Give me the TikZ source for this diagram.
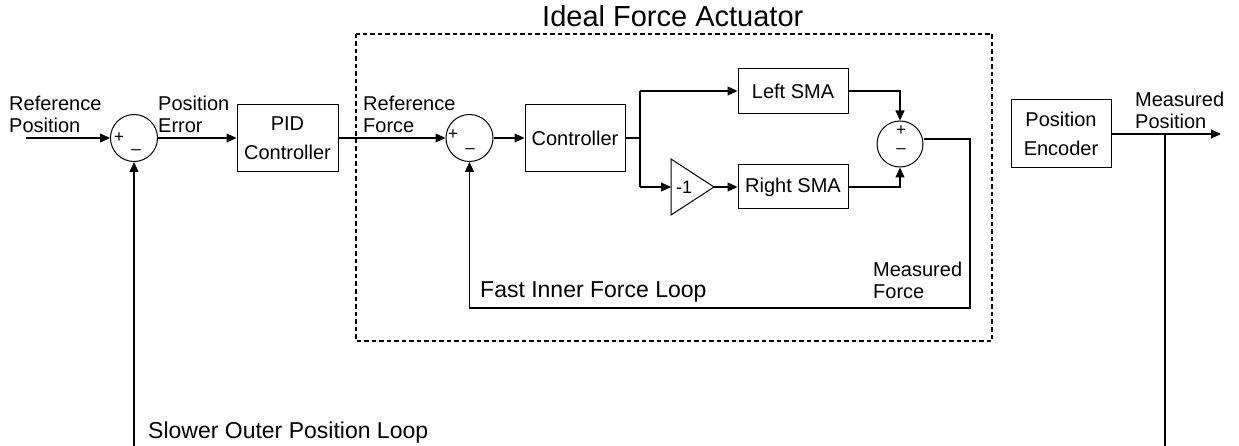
\documentclass[tikz,border=0pt]{standalone}
\usepackage{fontspec}
\setmainfont{Liberation Sans}
\usetikzlibrary{arrows.meta}
\tikzset{
  x=1pt, y=-1pt,
  wire/.style={line width=1.1pt, draw=black},
  sig/.style={wire, -{Triangle[length=10pt,width=9pt]}},
  blk/.style={draw=black, line width=1pt, minimum width=#1, inner sep=0pt, align=center,
              font=\fontsize{20}{29}\selectfont},
  blk/.default=100pt,
  sumnode/.style={draw=black, line width=1pt, circle, minimum size=47pt, inner sep=0pt},
  sgn/.style={font=\fontsize{17}{17}\selectfont, inner sep=0pt},
  lbl/.style={font=\fontsize{20}{22}\selectfont, align=left, inner sep=0pt, anchor=west},
  big/.style={font=\fontsize{23}{23}\selectfont, inner sep=0pt, anchor=base west},
  frame/.style={line width=1.6pt, dash pattern=on 4.5pt off 3pt}
}
\begin{document}
\begin{tikzpicture}
\useasboundingbox (0,0) rectangle (1239,446);

% ideal force actuator frame
\draw[frame] (356,34) rectangle (992,341);
\node[font=\fontsize{29}{29}\selectfont, inner sep=0pt, anchor=base west] (ttl) at (542,27) {Ideal Force Actuator};

% blocks
\node[sumnode] (s1) at (134,138) {};
\node[sgn] (s1p) at (119,138) {+};
\node[sgn] (s1m) at (136,152) {–};
\node[blk=101pt, minimum height=67pt] (pid) at (287.5,138) {PID\\Controller};
\node[sumnode] (s2) at (469.5,138) {};
\node[sgn] (s2p) at (453,135) {+};
\node[sgn] (s2m) at (470,151) {–};
\node[blk=100pt, minimum height=67pt] (ctl) at (575,138) {Controller};
\node[blk=110pt, minimum height=45pt] (lsma) at (793,91) {Left SMA};
\node[blk=110pt, minimum height=44pt] (rsma) at (793,187) {Right SMA};
\node[sumnode, minimum size=46pt] (s3) at (900,144) {};
\node[sgn] (s3p) at (901,131) {+};
\node[sgn] (s3m) at (901,151) {–};
\node[blk=100pt, minimum height=68pt] (enc) at (1061,134) {Position\\Encoder};

% gain of -1
\coordinate (gin) at (671,187);
\coordinate (gout) at (714,187);
\draw[line width=1pt] (671,159) -- (gout) -- (671,215) -- cycle;
\node[font=\fontsize{18}{18}\selectfont, inner sep=0pt] (gtxt) at (684,187) {-1};

% labels
\node[lbl] (lrp) at (9,114) {Reference\\Position};
\node[lbl] (lpe) at (158,114) {Position\\Error};
\node[lbl] (lrf) at (363,114) {Reference\\Force};
\node[lbl] (lmf) at (873,280) {Measured\\Force};
\node[lbl] (lmp) at (1135,110) {Measured\\Position};
\node[big] (lfast) at (480,298) {Fast Inner Force Loop};
\node[big] (lslow) at (148,438) {Slower Outer Position Loop};

% helper points
\coordinate (rp) at (26,138);
\coordinate (br) at (640,138);
\coordinate (brt) at (640,91);
\coordinate (brb) at (640,187);
\coordinate (lt) at (900,91);
\coordinate (rt) at (900,187);
\coordinate (fr) at (970,139);
\coordinate (fb) at (970,308);
\coordinate (fl) at (469.5,308);
\coordinate (mp) at (1165,134);
\coordinate (mpout) at (1221,134);
\coordinate (mpb) at (1165,446);
\coordinate (ob) at (134,446);

% signal flow
\draw[sig] (rp) -- (s1);
\draw[sig] (s1) -- (pid);
\draw[sig] (pid) -- (s2);
\draw[sig] (s2) -- (ctl);
\draw[wire] (ctl.east) -- (br);
\draw[wire] (brt) -- (brb);
\draw[sig] (brt) -- (lsma);
\draw[sig] (brb) -- (gin);
\draw[sig] (gout) -- (rsma);
\draw[sig] (lsma.east) -- (lt) -- (s3.north);
\draw[sig] (rsma.east) -- (rt) -- (s3.south);
\draw[sig] (s3.east |- fr) -- (fr) -- (fb) -- (fl) -- (s2.south);
\draw[sig] (enc) -- (mpout);
\draw[wire] (mp) -- (mpb);
\draw[sig] (ob) -- (s1.south);
\end{tikzpicture}
\end{document}
